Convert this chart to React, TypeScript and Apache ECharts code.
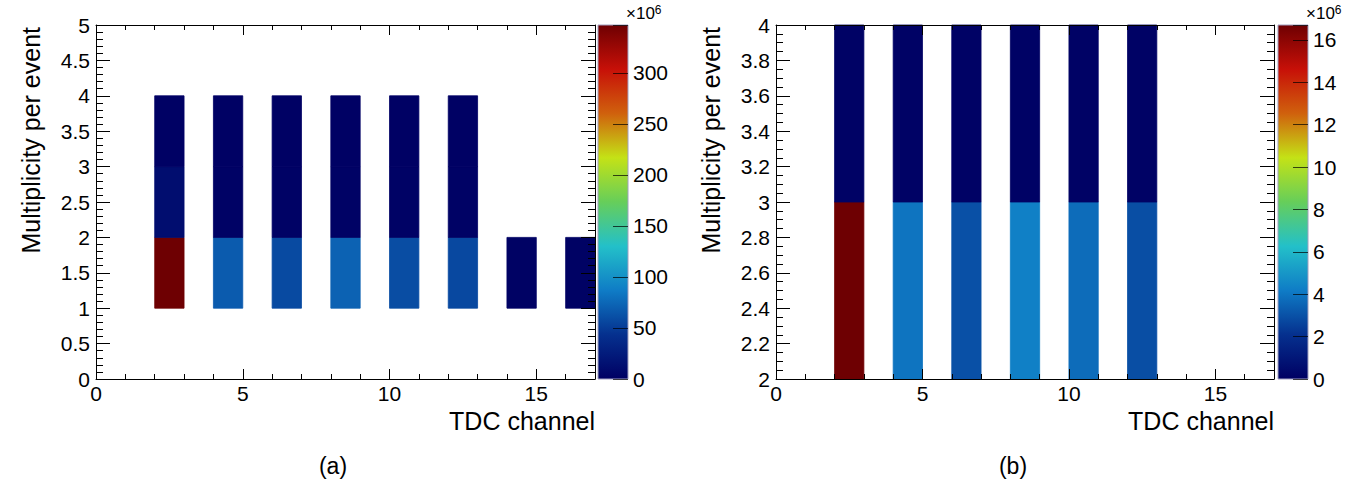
import React, { useEffect, useRef } from "react";
import * as echarts from "echarts";

const FONT = "'Liberation Sans', Arial, Helvetica, sans-serif";

// ROOT kRainBow palette (bottom -> top)
const paletteColors = [
  "#000063", "#05308e", "#0f7cc6", "#23c0c9", "#66ce5a",
  "#c4e216", "#d0610d", "#c71008", "#6e0002",
];

// Panel (a): counts (x10^6) per TDC channel and multiplicity bin
const channelsA = [2, 4, 6, 8, 10, 12, 14, 16];
const countsA_mult1 = [347, 68, 58, 72, 60, 57, 1.5, 1.5];
const countsA_mult2 = [12, 2, 2, 2, 2, 2, null, null];
const countsA_mult3 = [1, 1, 1, 1, 1, 1, null, null];
const zMaxA = 347;

// Panel (b)
const channelsB = [2, 4, 6, 8, 10, 12];
const countsB_mult2 = [16.7, 3.96, 2.98, 4.3, 3.74, 2.9];
const countsB_mult3 = [0.1, 0.1, 0.1, 0.1, 0.1, 0.1];
const zMaxB = 16.7;

const xRange = [0, 17];
const yRangeA = [0, 5];
const yRangeB = [2, 4];

const TICK_FS = 21;
const TITLE_FS = 25;

function buildBins(channels: number[], rows: { m: number; vals: (number | null)[] }[]) {
  const out: number[][] = [];
  rows.forEach((r) => {
    r.vals.forEach((v, i) => {
      if (v !== null) out.push([channels[i], r.m, v]);
    });
  });
  return out;
}

const binsA = buildBins(channelsA, [
  { m: 1, vals: countsA_mult1 },
  { m: 2, vals: countsA_mult2 },
  { m: 3, vals: countsA_mult3 },
]);
const binsB = buildBins(channelsB, [
  { m: 2, vals: countsB_mult2 },
  { m: 3, vals: countsB_mult3 },
]);

const black = "#000";

function xAxesFor(gridIndex: number) {
  const base = {
    gridIndex,
    type: "value",
    min: xRange[0],
    max: xRange[1],
    splitLine: { show: false },
    z: 10,
  };
  return [
    {
      ...base,
      position: "bottom",
      interval: 5,
      axisLine: { show: true, onZero: false, lineStyle: { color: black, width: 1 } },
      axisTick: { show: true, inside: true, length: 10, lineStyle: { color: black } },
      axisLabel: {
        show: true,
        margin: 4,
        fontSize: TICK_FS,
        fontFamily: FONT,
        color: black,
        formatter: (v: number) => (v > 15 ? "" : String(v)),
      },
    },
    {
      ...base,
      position: "bottom",
      interval: 1,
      axisLine: { show: false, onZero: false },
      axisTick: { show: true, inside: true, length: 5, lineStyle: { color: black } },
      axisLabel: { show: false },
    },
    {
      ...base,
      position: "top",
      interval: 5,
      axisLine: { show: true, onZero: false, lineStyle: { color: black, width: 1 } },
      axisTick: { show: true, inside: true, length: 10, lineStyle: { color: black } },
      axisLabel: { show: false },
    },
    {
      ...base,
      position: "top",
      interval: 1,
      axisLine: { show: false, onZero: false },
      axisTick: { show: true, inside: true, length: 5, lineStyle: { color: black } },
      axisLabel: { show: false },
    },
  ];
}

function yAxesFor(gridIndex: number, range: number[], interval: number, minorSplit: number) {
  const base = {
    gridIndex,
    type: "value",
    min: range[0],
    max: range[1],
    interval,
    splitLine: { show: false },
    z: 10,
    axisLine: { show: true, onZero: false, lineStyle: { color: black, width: 1 } },
    axisTick: { show: true, inside: true, length: 14, lineStyle: { color: black } },
    minorTick: { show: true, splitNumber: minorSplit, length: 7, lineStyle: { color: black } },
  };
  return [
    {
      ...base,
      position: "left",
      axisLabel: { show: true, margin: 6, fontSize: TICK_FS, fontFamily: FONT, color: black },
    },
    { ...base, position: "right", axisLabel: { show: false } },
  ];
}

function colorbarAxes(gridIndex: number, zMax: number, interval: number) {
  return {
    x: {
      gridIndex,
      type: "value",
      min: 0,
      max: 1,
      show: false,
    },
    y: {
      gridIndex,
      type: "value",
      position: "right",
      min: 0,
      max: zMax,
      interval,
      z: 10,
      splitLine: { show: false },
      axisLine: { show: false, onZero: false },
      axisTick: { show: true, inside: true, length: 15, lineStyle: { color: "rgba(0,0,0,0.7)" } },
      axisLabel: {
        show: true,
        margin: 5,
        fontSize: TICK_FS,
        fontFamily: FONT,
        color: black,
        formatter: (v: number) => (Math.abs(v % interval) < 1e-9 ? String(v) : ""),
      },
    },
  };
}

const binRender = (_params: any, api: any) => {
  const x = api.value(0);
  const y = api.value(1);
  const a = api.coord([x, y + 1]);
  const b = api.coord([x + 1, y]);
  const c = api.visual("color");
  return {
    type: "rect",
    shape: { x: a[0], y: a[1], width: b[0] - a[0], height: b[1] - a[1] },
    style: { fill: c, stroke: c, lineWidth: 0.8 },
  };
};

const barRender = (_params: any, api: any) => {
  const a = api.coord([0, api.value(1)]);
  const b = api.coord([1, 0]);
  return {
    type: "rect",
    shape: { x: a[0], y: a[1], width: b[0] - a[0], height: b[1] - a[1] },
    style: {
      fill: new echarts.graphic.LinearGradient(
        0, 1, 0, 0,
        paletteColors.map((c, i) => ({ offset: i / (paletteColors.length - 1), color: c }))
      ),
      stroke: "#a0a0c0",
      lineWidth: 1,
    },
  };
};

function titleY(x: number) {
  return {
    type: "text",
    x,
    y: 27,
    rotation: Math.PI / 2,
    style: {
      text: "Multiplicity per event",
      fontSize: TITLE_FS,
      fontFamily: FONT,
      fill: black,
      align: "right",
      verticalAlign: "middle",
    },
  };
}

function titleX(x: number) {
  return {
    type: "text",
    x,
    y: 421,
    style: {
      text: "TDC channel",
      fontSize: TITLE_FS,
      fontFamily: FONT,
      fill: black,
      align: "right",
      verticalAlign: "middle",
    },
  };
}

function caption(x: number, text: string) {
  return {
    type: "text",
    x,
    y: 466,
    style: { text, fontSize: 23, fontFamily: FONT, fill: black, align: "center", verticalAlign: "middle" },
  };
}

function exponent(x: number) {
  return {
    type: "text",
    x,
    y: 4,
    style: {
      text: "×10{s|6}",
      fontSize: 17,
      fontFamily: FONT,
      fill: black,
      rich: { s: { fontSize: 12, fontFamily: FONT, verticalAlign: "top", padding: [0, 0, 7, 0] } },
    },
  };
}

export default function App() {
  const ref = useRef<HTMLDivElement>(null);
  useEffect(() => {
    if (!ref.current) return;
    const chart = echarts.init(ref.current, null, { renderer: "svg" });
    const cbA = colorbarAxes(1, zMaxA, 50);
    const cbB = colorbarAxes(3, zMaxB, 2);
    const option: any = {
      animation: false,
      backgroundColor: "#fff",
      textStyle: { fontFamily: FONT },
      grid: [
        { left: 96, top: 25, width: 499, height: 354 },
        { left: 598, top: 25, width: 30, height: 354 },
        { left: 776, top: 25, width: 498, height: 354 },
        { left: 1278, top: 25, width: 30, height: 354 },
      ],
      xAxis: [...xAxesFor(0), cbA.x, ...xAxesFor(2), cbB.x],
      yAxis: [
        ...yAxesFor(0, yRangeA, 0.5, 5),
        cbA.y,
        ...yAxesFor(2, yRangeB, 0.2, 4),
        cbB.y,
      ],
      visualMap: [
        {
          type: "continuous",
          show: false,
          min: 0,
          max: zMaxA,
          dimension: 2,
          seriesIndex: 0,
          inRange: { color: paletteColors },
        },
        {
          type: "continuous",
          show: false,
          min: 0,
          max: zMaxB,
          dimension: 2,
          seriesIndex: 2,
          inRange: { color: paletteColors },
        },
      ],
      series: [
        {
          type: "custom",
          xAxisIndex: 0,
          yAxisIndex: 0,
          data: binsA,
          encode: { x: 0, y: 1 },
          renderItem: binRender,
          z: 2,
        },
        {
          type: "custom",
          xAxisIndex: 4,
          yAxisIndex: 2,
          data: [[0, zMaxA]],
          encode: { x: 0, y: 1 },
          renderItem: barRender,
          z: 2,
        },
        {
          type: "custom",
          xAxisIndex: 5,
          yAxisIndex: 3,
          data: binsB,
          encode: { x: 0, y: 1 },
          renderItem: binRender,
          z: 2,
        },
        {
          type: "custom",
          xAxisIndex: 9,
          yAxisIndex: 5,
          data: [[0, zMaxB]],
          encode: { x: 0, y: 1 },
          renderItem: barRender,
          z: 2,
        },
      ],
      graphic: [
        titleY(31),
        titleY(711),
        titleX(595),
        titleX(1274),
        caption(333, "(a)"),
        caption(1013, "(b)"),
        exponent(626),
        exponent(1306),
      ],
    };
    chart.setOption(option);
    return () => chart.dispose();
  }, []);
  return (
    <div
      ref={ref}
      style={{ position: "fixed", left: 0, top: 0, width: 1357, height: 486, background: "#fff" }}
    />
  );
}
